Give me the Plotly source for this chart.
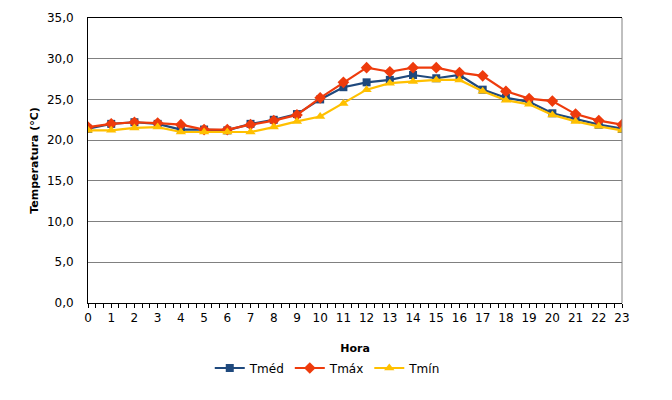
import plotly.graph_objects as go

hora = list(range(24))
t_med = [21.4, 22.0, 22.2, 22.0, 21.3, 21.3, 21.2, 22.0, 22.5, 23.2, 25.0, 26.5,
         27.1, 27.4, 28.0, 27.6, 28.0, 26.2, 25.2, 24.7, 23.3, 22.6, 21.9, 21.4]
t_max = [21.6, 22.0, 22.2, 22.1, 21.9, 21.3, 21.3, 21.9, 22.4, 23.1, 25.2, 27.1,
         28.9, 28.4, 28.9, 28.9, 28.3, 27.9, 26.0, 25.1, 24.8, 23.2, 22.4, 21.9]
t_min = [21.2, 21.2, 21.5, 21.6, 21.0, 21.0, 21.0, 21.0, 21.6, 22.3, 22.9, 24.5,
         26.2, 27.0, 27.2, 27.4, 27.4, 26.0, 24.9, 24.4, 23.1, 22.3, 21.7, 21.2]

font = "Verdana, DejaVu Sans, sans-serif"

fig = go.Figure()
fig.add_trace(go.Scatter(x=hora, y=t_med, name="Tméd", mode="lines+markers",
                         line=dict(color="#1F497D", width=2.2),
                         marker=dict(symbol="square", size=8, color="#1F497D")))
fig.add_trace(go.Scatter(x=hora, y=t_max, name="Tmáx", mode="lines+markers",
                         line=dict(color="#EE3B0C", width=2.2),
                         marker=dict(symbol="diamond", size=9, color="#EE3B0C")))
fig.add_trace(go.Scatter(x=hora, y=t_min, name="Tmín", mode="lines+markers",
                         line=dict(color="#FFC000", width=2.2),
                         marker=dict(symbol="triangle-up", size=9, color="#FFC000")))

# the page adds an 8px body margin, so margins are 8px smaller than measured
fig.update_layout(
    width=672, height=400,
    margin=dict(l=80, r=58, t=10, b=105),
    plot_bgcolor="white", paper_bgcolor="white",
    separators=",.",
    font=dict(family=font, size=12, color="black"),
    showlegend=True,
    legend=dict(orientation="h", x=0.449, xanchor="center", y=-0.228, yanchor="middle",
                font=dict(size=12), itemwidth=30),
)
fig.update_xaxes(
    range=[0, 23], tickmode="array", tickvals=hora, ticks="outside", ticklen=4,
    tickcolor="black", zeroline=False, automargin=False,
    showgrid=False, showline=True, linecolor="black", linewidth=1, mirror=True,
    minor=dict(dtick=1 / 3, ticks="outside", ticklen=4, tickcolor="black", showgrid=False),
    title=dict(text="<b>Hora</b>", font=dict(size=11), standoff=19),
)
fig.update_yaxes(
    range=[0, 35], dtick=5, tickformat=".1f", zeroline=False, automargin=False,
    showgrid=True, gridcolor="#808080", gridwidth=1, ticklabelstandoff=11,
    showline=True, linecolor="black", linewidth=1,
    title=dict(text="<b>Temperatura (°C)</b>", font=dict(size=11), standoff=6),
)
# grey right border of plot area
fig.add_shape(type="line", xref="paper", yref="paper", x0=1, x1=1, y0=0, y1=1,
              line=dict(color="#808080", width=1))

fig.write_html("out.html")
